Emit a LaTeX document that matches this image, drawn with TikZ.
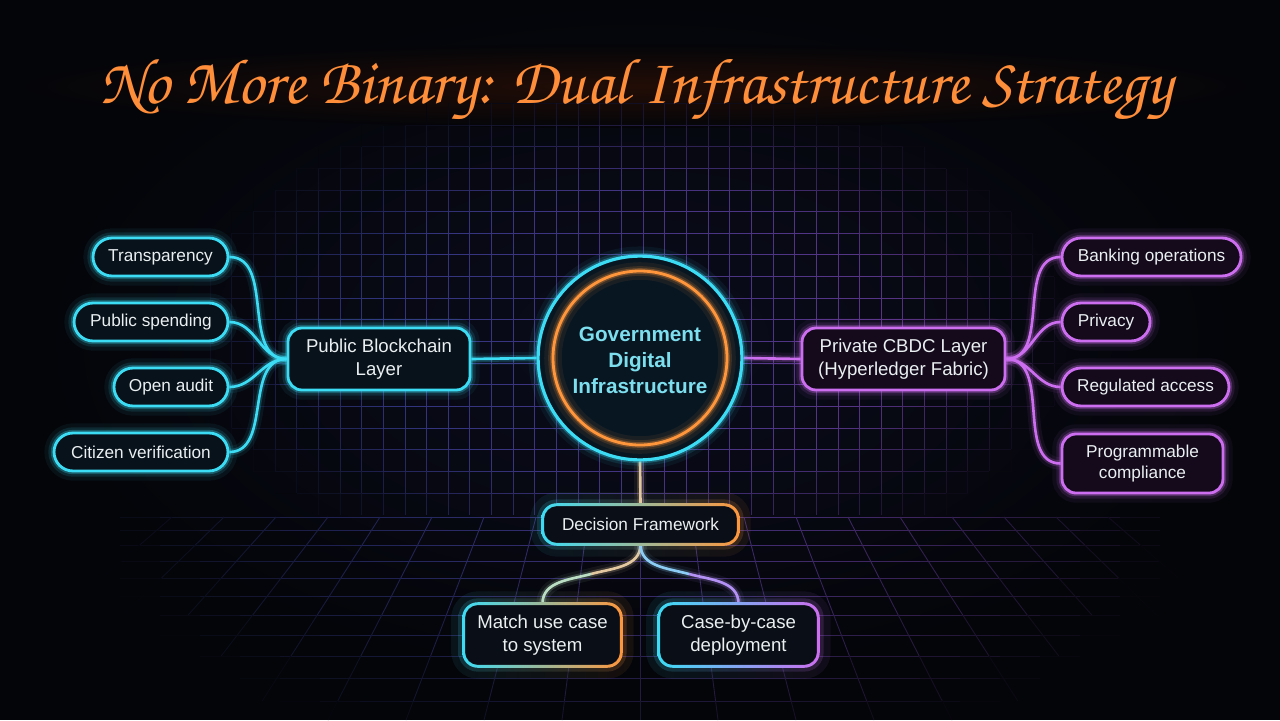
\documentclass[tikz,border=0pt]{standalone}
\usepackage{fontspec}
\setmainfont{Liberation Sans}
\newfontfamily\titlefont{texgyrechorus-mediumitalic.otf}
\usetikzlibrary{calc}
\pgfdeclarelayer{back}
\pgfdeclarelayer{wires}
\pgfsetlayers{back,wires,main}

\definecolor{bgc}{RGB}{4,5,9}
\definecolor{bgglow}{RGB}{10,12,28}
\definecolor{titlehalo}{RGB}{34,13,6}
\definecolor{gridb}{RGB}{48,52,125}
\definecolor{gridp}{RGB}{88,52,135}
\definecolor{cyanc}{RGB}{60,220,245}
\definecolor{purpc}{RGB}{205,110,240}
\definecolor{orangec}{RGB}{255,150,60}
\definecolor{titlec}{RGB}{255,142,58}
\definecolor{labelc}{RGB}{234,239,241}
\definecolor{ctrc}{RGB}{125,222,238}
\definecolor{fillc}{RGB}{8,18,26}
\definecolor{fillp}{RGB}{20,10,28}
\definecolor{fillg}{RGB}{10,14,22}
\definecolor{fillctr}{RGB}{8,22,34}
\definecolor{wbeige}{RGB}{228,200,160}
\definecolor{wgreen}{RGB}{185,222,195}
\definecolor{wblue}{RGB}{140,205,245}
\definecolor{wlav}{RGB}{180,145,245}

\newcommand\lblfont{\fontsize{9.8pt}{12pt}\selectfont}
\newcommand\layfont{\fontsize{10.6pt}{13pt}\selectfont}
\newcommand\ctrfont{\fontsize{11.8pt}{14.8pt}\selectfont\bfseries}
\newcommand\titletext{\resizebox{610pt}{!}{\titlefont No More Binary: Dual Infrastructure Strategy}}

\newcommand\gradglow[3]{%
  \shade[left color=#2, right color=#3, opacity=0.07, even odd rule]
    [rounded corners=15pt] ($(#1.south west)+(-7pt,-7pt)$) rectangle ($(#1.north east)+(7pt,7pt)$)
    [rounded corners=2pt] ($(#1.south west)+(3pt,3pt)$) rectangle ($(#1.north east)+(-3pt,-3pt)$);
  \shade[left color=#2, right color=#3, opacity=0.16, even odd rule]
    [rounded corners=11pt] ($(#1.south west)+(-3pt,-3pt)$) rectangle ($(#1.north east)+(3pt,3pt)$)
    [rounded corners=4pt] ($(#1.south west)+(3pt,3pt)$) rectangle ($(#1.north east)+(-3pt,-3pt)$);
}
\newcommand\gradring[3]{%
  \shade[left color=#2, right color=#3, even odd rule]
    [rounded corners=8.8pt] ($(#1.south west)+(-0.8pt,-0.8pt)$) rectangle ($(#1.north east)+(0.8pt,0.8pt)$)
    [rounded corners=7.2pt] ($(#1.south west)+(0.8pt,0.8pt)$) rectangle ($(#1.north east)+(-0.8pt,-0.8pt)$);
}

\tikzset{
  glow/.style={preaction={draw=#1,line width=11pt,draw opacity=0.06},
               preaction={draw=#1,line width=6.5pt,draw opacity=0.12},
               preaction={draw=#1,line width=3.6pt,draw opacity=0.28}},
  basebox/.style={inner sep=0pt, align=center, text=labelc, line width=1.6pt},
  leafc/.style={basebox, font=\lblfont, rounded corners=10.8pt, minimum height=21.6pt, draw=cyanc, fill=fillc, glow=cyanc},
  leafp/.style={basebox, font=\lblfont, rounded corners=10.8pt, minimum height=21.6pt, draw=purpc, fill=fillp, glow=purpc},
  layc/.style={basebox, font=\layfont, rounded corners=8pt, minimum height=35.3pt, draw=cyanc, fill=fillc, glow=cyanc},
  layp/.style={basebox, font=\layfont, rounded corners=8pt, minimum height=35.3pt, draw=purpc, fill=fillp, glow=purpc},
  gradbox/.style={basebox, rounded corners=8pt, fill=fillg},
  wire/.style={draw=#1, line width=1.5pt,
               preaction={draw=#1,line width=7pt,draw opacity=0.07},
               preaction={draw=#1,line width=3.6pt,draw opacity=0.2}},
}

\begin{document}
\begin{tikzpicture}[x=0.02cm,y=-0.02cm]
\useasboundingbox (0,0) rectangle (1280,720);

% ---------- background ----------
\begin{pgfonlayer}{back}
\fill[bgc] (0,0) rectangle (1280,720);
\shade[inner color=bgglow, outer color=bgc] (640,340) ellipse [x radius=600, y radius=340];
\shade[inner color=titlehalo, outer color=bgc] (636,86) ellipse [x radius=620, y radius=42];
% wall grid
\foreach \k in {-4,...,35}{
  \foreach \j in {-1,...,17}{
    \pgfmathsetmacro\xa{296.7+\k*21.65}
    \pgfmathsetmacro\ya{125+\j*21.65}
    \pgfmathsetmacro\yb{\ya+21.65}
    \pgfmathsetmacro\xb{\xa+21.65}
    \pgfmathsetmacro\tt{max(0,min(100,(\xa-380)/5))}
    \colorlet{gl}{gridp!\tt!gridb}
    \pgfmathsetmacro\dx{(\xa-630)/450}
    \pgfmathsetmacro\dy{(\ya+10.8-335)/250}
    \pgfmathsetmacro\ff{max(0,min(100,150*(1-(\dx)*(\dx)-(\dy)*(\dy))))}
    \ifdim\ff pt>1pt \draw[draw=gl!\ff!bgc, line width=0.5pt] (\xa,\ya) -- (\xa,\yb);\fi
    \pgfmathsetmacro\dx{(\xa+10.8-630)/450}
    \pgfmathsetmacro\dy{(\ya-335)/250}
    \pgfmathsetmacro\ff{max(0,min(100,150*(1-(\dx)*(\dx)-(\dy)*(\dy))))}
    \ifdim\ff pt>1pt \draw[draw=gl!\ff!bgc, line width=0.5pt] (\xa,\ya) -- (\xb,\ya);\fi
  }
}
% floor grid: horizontal
\foreach \yy in {517,530,545,561,578,596,615,635,656,678,701}{
  \foreach \s in {0,...,27}{
    \pgfmathsetmacro\xa{80+\s*40}
    \pgfmathsetmacro\xb{\xa+40}
    \pgfmathsetmacro\tt{max(0,min(100,(\xa-380)/5))}
    \colorlet{gl}{gridp!\tt!gridb}
    \pgfmathsetmacro\dx{(\xa+20-640)/540}
    \pgfmathsetmacro\dy{(\yy-505)/260}
    \pgfmathsetmacro\ff{max(0,min(100,90*(1-(\dx)*(\dx)-(\dy)*(\dy))))}
    \ifdim\ff pt>1pt \draw[draw=gl!\ff!bgc, line width=0.5pt] (\xa,\yy) -- (\xb,\yy);\fi
  }
}
% floor grid: receding lines
\foreach \m in {-14,...,14}{
  \foreach \ya/\yb in {517/545,545/578,578/615,615/656,656/701,701/720}{
    \pgfmathsetmacro\xa{640+\m*52*(1+0.5*(\ya-517)/203)}
    \pgfmathsetmacro\xb{640+\m*52*(1+0.5*(\yb-517)/203)}
    \pgfmathsetmacro\tt{max(0,min(100,(\xa-380)/5))}
    \colorlet{gl}{gridp!\tt!gridb}
    \pgfmathsetmacro\dx{((\xa+\xb)/2-640)/540}
    \pgfmathsetmacro\dy{((\ya+\yb)/2-505)/260}
    \pgfmathsetmacro\ff{max(0,min(100,85*(1-(\dx)*(\dx)-(\dy)*(\dy))))}
    \ifdim\ff pt>1pt \draw[draw=gl!\ff!bgc, line width=0.5pt] (\xa,\ya) -- (\xb,\yb);\fi
  }
}
\end{pgfonlayer}

% ---------- title ----------
\node[anchor=base, text=titlec, inner sep=0pt] (title) at (636,103) {\titletext};

% ---------- nodes ----------
\node[leafc, minimum width=76.8pt] (t1) at (160.5,257) {Transparency};
\node[leafc, minimum width=87.6pt] (t2) at (151,322) {Public spending};
\node[leafc, minimum width=64.9pt] (t3) at (171,387) {Open audit};
\node[leafc, minimum width=99pt]   (t4) at (141,452) {Citizen verification};
\node[layc, minimum width=103.6pt] (pbl) at (379,359) {Public Blockchain\\Layer};

\node[circle, draw=cyanc, line width=1.8pt, fill=fillctr, minimum size=116pt, inner sep=0pt, glow=cyanc] (gdi) at (640,358) {};
\draw[draw=orangec, line width=1.6pt,
      preaction={draw=orangec,line width=10pt,draw opacity=0.07},
      preaction={draw=orangec,line width=5.5pt,draw opacity=0.15},
      preaction={draw=orangec,line width=3.2pt,draw opacity=0.3}] (gdi.center) circle[radius=87];
\node[font=\ctrfont, text=ctrc, align=center, inner sep=0pt] (gdit) at (640,360) {Government\\Digital\\Infrastructure};

\node[layp, minimum width=115.5pt] (cbdc) at (903.5,359) {Private CBDC Layer\\(Hyperledger Fabric)};
\node[leafp, minimum width=101.9pt] (p1) at (1151.5,257) {Banking operations};
\node[leafp, minimum width=50.1pt]  (p2) at (1106,322) {Privacy};
\node[leafp, minimum width=95pt]    (p3) at (1145.5,387) {Regulated access};
\node[layp, font=\lblfont, minimum width=91.6pt, minimum height=33.6pt] (p4) at (1142.5,463.5) {Programmable\\compliance};

\node[gradbox, font=\lblfont, minimum width=109.8pt, minimum height=21pt] (df) at (640.5,524.5) {Decision Framework};
\node[gradbox, font=\layfont, minimum width=88.2pt, minimum height=34.1pt] (match) at (542.5,635) {Match use case\\to system};
\node[gradbox, font=\layfont, minimum width=89.3pt, minimum height=34.1pt] (case) at (738.5,635) {Case-by-case\\deployment};
\gradring{df}{cyanc}{orangec}
\gradring{match}{cyanc}{orangec}
\gradring{case}{cyanc}{purpc}

% ---------- connectors ----------
\begin{pgfonlayer}{wires}
\gradglow{df}{cyanc}{orangec}
\gradglow{match}{cyanc}{orangec}
\gradglow{case}{cyanc}{purpc}
\foreach \n in {t1,t2,t3,t4}{
  \draw[wire=cyanc] (\n.east) to[out=0,in=180] (pbl.west);
}
\draw[wire=cyanc] (pbl.east) -- (gdi.west);
\draw[wire=purpc] (gdi.east) -- (cbdc.west);
\foreach \n in {p1,p2,p3,p4}{
  \draw[wire=purpc] (cbdc.east) to[out=0,in=180] (\n.west);
}
\draw[wire=wbeige] (gdi.south) -- (df.north);
\coordinate (mL) at (591,574);
\coordinate (mR) at (689,574);
\draw[wire=wbeige] (df.south) to[out=-90,in=15] (mL);
\draw[wire=wgreen] (mL) to[out=195,in=90] (match.north);
\draw[wire=wblue] (df.south) to[out=-90,in=165] (mR);
\draw[wire=wlav] (mR) to[out=-15,in=90] (case.north);
\end{pgfonlayer}
\end{tikzpicture}
\end{document}
